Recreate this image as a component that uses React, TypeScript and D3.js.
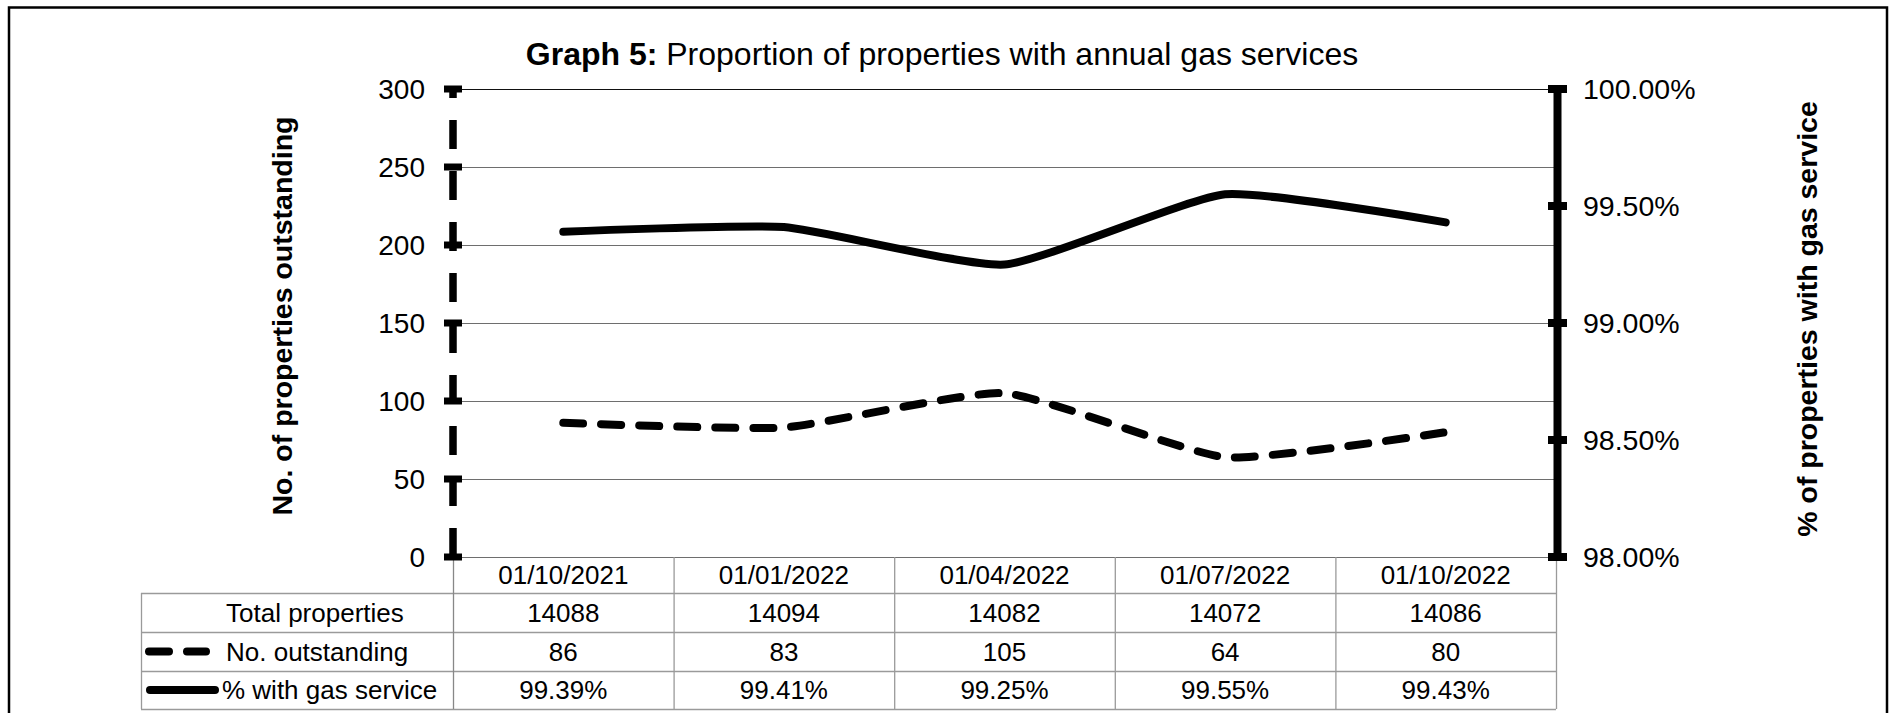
import React from "react";
import * as d3 from "d3";

const categories = ["01/10/2021", "01/01/2022", "01/04/2022", "01/07/2022", "01/10/2022"];
const totalProperties = [14088, 14094, 14082, 14072, 14086];
const noOutstanding = [86, 83, 105, 64, 80];
const pctWithService = [99.39, 99.41, 99.25, 99.55, 99.43];
const leftTicks = [0, 50, 100, 150, 200, 250, 300];
const rightTicks = [98, 98.5, 99, 99.5, 100];
const rowLabels = ["Total properties", "No. outstanding", "% with gas service"];

const W = 1890;
const H = 713;
const FONT = "'Liberation Sans', Arial, Helvetica, sans-serif";

export default function App() {
  const plotL = 453, plotR = 1556, plotT = 89, plotB = 557;
  const x = d3.scaleBand<string>().domain(categories).range([plotL, plotR]);
  const cx = (c: string) => (x(c) as number) + x.bandwidth() / 2;
  const yL = d3.scaleLinear().domain([0, 300]).range([plotB, plotT]);
  const yR = d3.scaleLinear().domain([98, 100]).range([plotB, plotT]);

  const curve = d3.curveCardinal.tension(0.5);
  const lineL = d3.line<number>().x((_, i) => cx(categories[i])).y((d) => yL(d)).curve(curve);
  const lineR = d3.line<number>().x((_, i) => cx(categories[i])).y((d) => yR(d)).curve(curve);

  const tableL = 141;
  const rowEdges = [plotB, 593, 632, 671, 709];
  const rowMid = (r: number) => (rowEdges[r] + rowEdges[r + 1]) / 2;
  const gridColor = "#6e6e6e";
  const tableColor = "#9a9a9a";

  const rows = [
    totalProperties.map((v) => String(v)),
    noOutstanding.map((v) => String(v)),
    pctWithService.map((v) => v.toFixed(2) + "%"),
  ];

  return (
    <svg width={W} height={H} style={{ position: "absolute", left: 0, top: 0 }} fontFamily={FONT}>
      <rect x={0} y={0} width={W} height={H} fill="#fff" />
      {/* outer border */}
      <rect x={9} y={7.5} width={1878} height={720} fill="none" stroke="#000" strokeWidth={2.5} />

      {/* title */}
      <text x={942} y={65} textAnchor="middle" fontSize={32} fill="#000">
        <tspan fontWeight="bold">Graph 5:</tspan>
        <tspan> Proportion of properties with annual gas services</tspan>
      </text>

      {/* gridlines */}
      {leftTicks.map((t) => (
        <line key={"g" + t} x1={plotL} x2={plotR} y1={Math.round(yL(t)) + 0.5} y2={Math.round(yL(t)) + 0.5}
          stroke={t === 300 ? "#111" : gridColor} strokeWidth={1} />
      ))}

      {/* table grid */}
      {rowEdges.slice(1).map((yy, i) => (
        <line key={"rh" + i} x1={tableL} x2={plotR} y1={yy + 0.5} y2={yy + 0.5} stroke={tableColor} strokeWidth={1.3} />
      ))}
      <line x1={tableL + 0.5} x2={tableL + 0.5} y1={rowEdges[1]} y2={rowEdges[4]} stroke={tableColor} strokeWidth={1.3} />
      {categories.map((c, i) => (
        <line key={"cv" + i} x1={(x(c) as number) + 0.5} x2={(x(c) as number) + 0.5} y1={plotB} y2={rowEdges[4]}
          stroke={i === 0 ? "#888" : tableColor} strokeWidth={1.3} />
      ))}
      <line x1={plotR + 0.5} x2={plotR + 0.5} y1={plotB} y2={rowEdges[4]} stroke={tableColor} strokeWidth={1.3} />

      {/* header dates */}
      {categories.map((c) => (
        <text key={"h" + c} x={cx(c)} y={rowMid(0)} dy="0.36em" textAnchor="middle" fontSize={26} fill="#000">{c}</text>
      ))}
      {/* table values */}
      {rows.map((r, ri) =>
        r.map((v, ci) => (
          <text key={"v" + ri + "-" + ci} x={cx(categories[ci])} y={rowMid(ri + 1)} dy="0.36em" textAnchor="middle" fontSize={26} fill="#000">{v}</text>
        ))
      )}
      {/* row labels */}
      {rowLabels.map((l, ri) => (
        <text key={"l" + ri} x={ri === 2 ? 222 : 226} y={rowMid(ri + 1)} dy="0.36em" textAnchor="start" fontSize={26} fill="#000">{l}</text>
      ))}
      {/* legend keys */}
      <line x1={149} x2={206} y1={rowMid(2)} y2={rowMid(2)} stroke="#000" strokeWidth={8} strokeLinecap="round" strokeDasharray="20 18" />
      <line x1={150} x2={215} y1={rowMid(3)} y2={rowMid(3)} stroke="#000" strokeWidth={8} strokeLinecap="round" />

      {/* left axis (dashed) */}
      <line x1={plotL} x2={plotL} y1={plotB} y2={plotT} stroke="#000" strokeWidth={7.5} strokeDasharray="29 22" />
      {leftTicks.map((t) => (
        <line key={"lt" + t} x1={plotL - 9} x2={plotL + 9} y1={yL(t)} y2={yL(t)} stroke="#000" strokeWidth={7} />
      ))}
      {leftTicks.map((t) => (
        <text key={"ll" + t} x={425} y={yL(t)} dy="0.36em" textAnchor="end" fontSize={28} fill="#000">{t}</text>
      ))}

      {/* right axis (solid) */}
      <line x1={plotR + 1.5} x2={plotR + 1.5} y1={plotB} y2={plotT} stroke="#000" strokeWidth={8} />
      {rightTicks.map((t) => (
        <line key={"rt" + t} x1={plotR - 8} x2={plotR + 11} y1={yR(t)} y2={yR(t)} stroke="#000" strokeWidth={8} />
      ))}
      {rightTicks.map((t) => (
        <text key={"rl" + t} x={1583} y={yR(t)} dy="0.36em" textAnchor="start" fontSize={28.5} fill="#000">{t.toFixed(2) + "%"}</text>
      ))}

      {/* axis titles */}
      <text transform={`translate(${292},${316}) rotate(-90)`} textAnchor="middle" fontSize={28.5} fontWeight="bold" fill="#000">
        No. of properties outstanding
      </text>
      <text transform={`translate(${1817},${319}) rotate(-90)`} textAnchor="middle" fontSize={28.5} fontWeight="bold" fill="#000">
        % of properties with gas service
      </text>

      {/* series */}
      <path d={lineL(noOutstanding) ?? ""} fill="none" stroke="#000" strokeWidth={8} strokeLinecap="round" strokeDasharray="20 18" />
      <path d={lineR(pctWithService) ?? ""} fill="none" stroke="#000" strokeWidth={8} strokeLinecap="round" />
    </svg>
  );
}
